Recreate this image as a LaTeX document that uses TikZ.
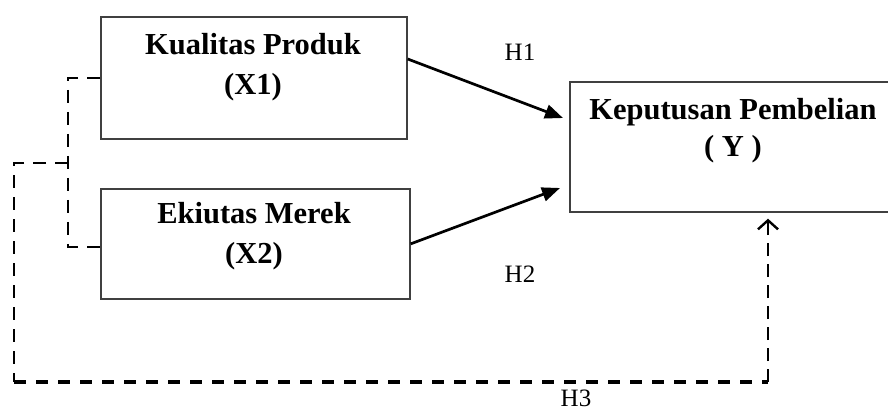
\documentclass[tikz,border=0pt]{standalone}
\usepackage{fontspec}
\setmainfont{Liberation Serif}
\usetikzlibrary{arrows.meta,calc}
\begin{document}
\begin{tikzpicture}[x=1pt,y=-1pt,
  varbox/.style={draw=black!75,line width=1.7pt,minimum width=#1,inner sep=0pt,anchor=north west},
  boxtext/.style={anchor=base,font=\fontsize{30.5}{34}\selectfont\bfseries,inner sep=0pt},
  hlabel/.style={anchor=base,font=\fontsize{25}{30}\selectfont,inner sep=0pt},
  mainarrow/.style={line width=2.7pt,-{Triangle[length=18pt,width=14pt]}},
  thindash/.style={line width=1.6pt,dash pattern=on 13pt off 9pt},
  thickdash/.style={line width=3.2pt,dash pattern=on 12pt off 10pt}]
\clip (0,0) rectangle (888,410);
\fill[white] (0,0) rectangle (888,410);
% boxes
\node[varbox=306pt,minimum height=122pt] (X1) at (100,16) {};
\node[varbox=309pt,minimum height=110pt] (X2) at (100,188) {};
\node[varbox=326pt,minimum height=130pt] (Y) at (569,81) {};
% texts
\node[boxtext] (t1a) at (253,54) {Kualitas Produk};
\node[boxtext] (t1b) at (253,94) {(X1)};
\node[boxtext] (t2a) at (254,223) {Ekiutas Merek};
\node[boxtext] (t2b) at (254,263) {(X2)};
\node[boxtext] (t3a) at (733,119) {Keputusan Pembelian};
\node[boxtext] (t3b) at (733,156) {( Y )};
\node[hlabel] (H1) at (520,60) {H1};
\node[hlabel] (H2) at (520,282) {H2};
\node[hlabel] (H3) at (576,406) {H3};
% connector points
\coordinate (a1s) at ($(X1.north east)+(0,43)$);
\coordinate (a1e) at ($(Y.north west)+(-6,37)$);
\coordinate (a2e) at ($(Y.north west)+(-9,107)$);
\coordinate (ybot) at ($(Y.south west)+(199,0)$);
\coordinate (split) at (68,163);
\coordinate (lc) at (14,163);
\coordinate (bl) at (14,382);
\coordinate (br) at (ybot |- bl);
% main arrows
\draw[mainarrow] (a1s) -- (a1e);
\draw[mainarrow] (X2.east) -- (a2e);
% dashed correlation
\draw[thindash] (X1.west) -- ++(-32,0) |- ([yshift=-3pt]X2.west);
\draw[thindash] (split) -- (lc) -- (bl);
\draw[thickdash] (bl) -- (br);
\draw[line width=2.8pt,dash pattern=on 13pt off 8pt,
  -{Straight Barb[length=9pt,width=20pt,line width=2.4pt]},shorten >=6pt] (br) -- (ybot);
\end{tikzpicture}
\end{document}
